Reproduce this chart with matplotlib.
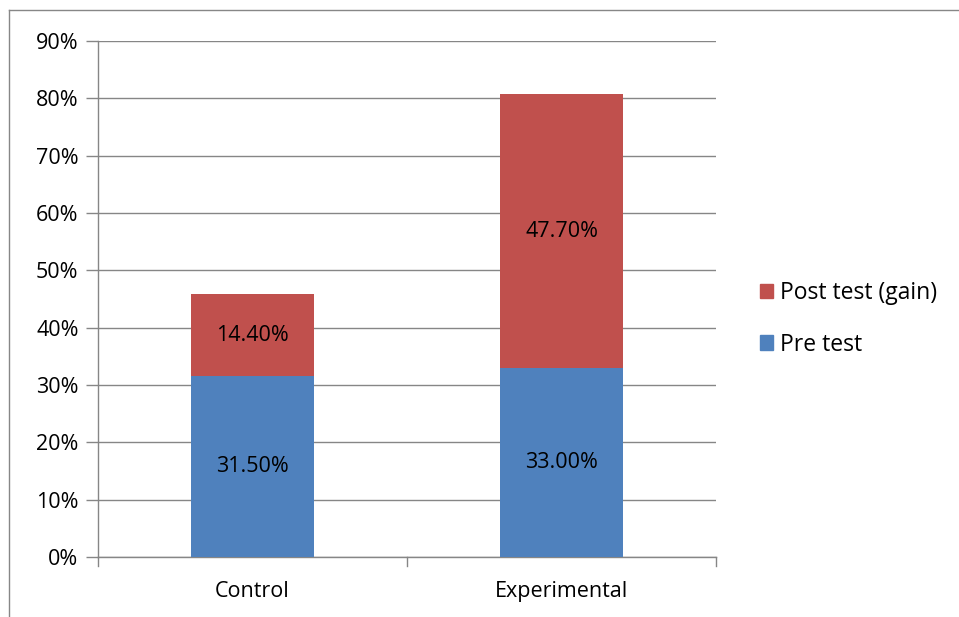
import matplotlib.pyplot as plt
from matplotlib.lines import Line2D
from matplotlib.patches import Patch

categories = ["Control", "Experimental"]
pre_test = [31.5, 33.0]
post_gain = [14.4, 47.7]
y_ticks = [0, 10, 20, 30, 40, 50, 60, 70, 80, 90]

BLUE = "#4F81BD"
RED = "#C0504D"
GRID = "#868686"
FS = 15.5

plt.rcParams["font.family"] = ["Open Sans", "DejaVu Sans"]

W, H = 959, 617
fig = plt.figure(figsize=(W / 100, H / 100), dpi=100)
ax = fig.add_axes([98 / W, 1 - 557 / H, (716 - 98) / W, (557 - 41) / H])

x = [0, 1]
ax.bar(x, pre_test, width=0.4, color=BLUE, zorder=3)
ax.bar(x, post_gain, width=0.4, bottom=pre_test, color=RED, zorder=3)

for xi, p, g in zip(x, pre_test, post_gain):
    ax.text(xi, p / 2, f"{p:.2f}%", ha="center", va="center", fontsize=FS, zorder=4)
    ax.text(xi, p + g / 2, f"{g:.2f}%", ha="center", va="center", fontsize=FS, zorder=4)

ax.set_xlim(-0.5, 1.5)
ax.set_ylim(0, 90)
ax.set_yticks(y_ticks)
ax.set_yticklabels([f"{t}%" for t in y_ticks], fontsize=FS)
ax.yaxis.grid(True, color=GRID, linewidth=1, zorder=0)
ax.tick_params(axis="y", length=9, width=1, color=GRID, pad=5)

ax.set_xticks(x)
ax.set_xticklabels(categories, fontsize=FS)
ax.tick_params(axis="x", length=0, pad=17)
for xt in [-0.5, 0.5, 1.5]:
    ax.plot([xt, xt], [0, -1.6], color=GRID, lw=1, clip_on=False, zorder=2)

for side in ["top", "right"]:
    ax.spines[side].set_visible(False)
for side in ["left", "bottom"]:
    ax.spines[side].set_color(GRID)
    ax.spines[side].set_linewidth(1)

handles = [Patch(color=RED), Patch(color=BLUE)]
fig.legend(handles, ["Post test (gain)", "Pre test"], loc="center left",
           bbox_to_anchor=(739 / W, 1 - 319 / H), frameon=False, fontsize=16.5,
           handlelength=0.6, handleheight=0.6, handletextpad=0.3, labelspacing=1.2)

# outer chart border (top and left visible)
fig.add_artist(Line2D([9 / W, 9 / W], [0, 1 - 10 / H], color="#878787", lw=1,
                      transform=fig.transFigure))
fig.add_artist(Line2D([9 / W, 1], [1 - 10 / H, 1 - 10 / H], color="#878787", lw=1,
                      transform=fig.transFigure))

fig.savefig("out.png", dpi=100)
